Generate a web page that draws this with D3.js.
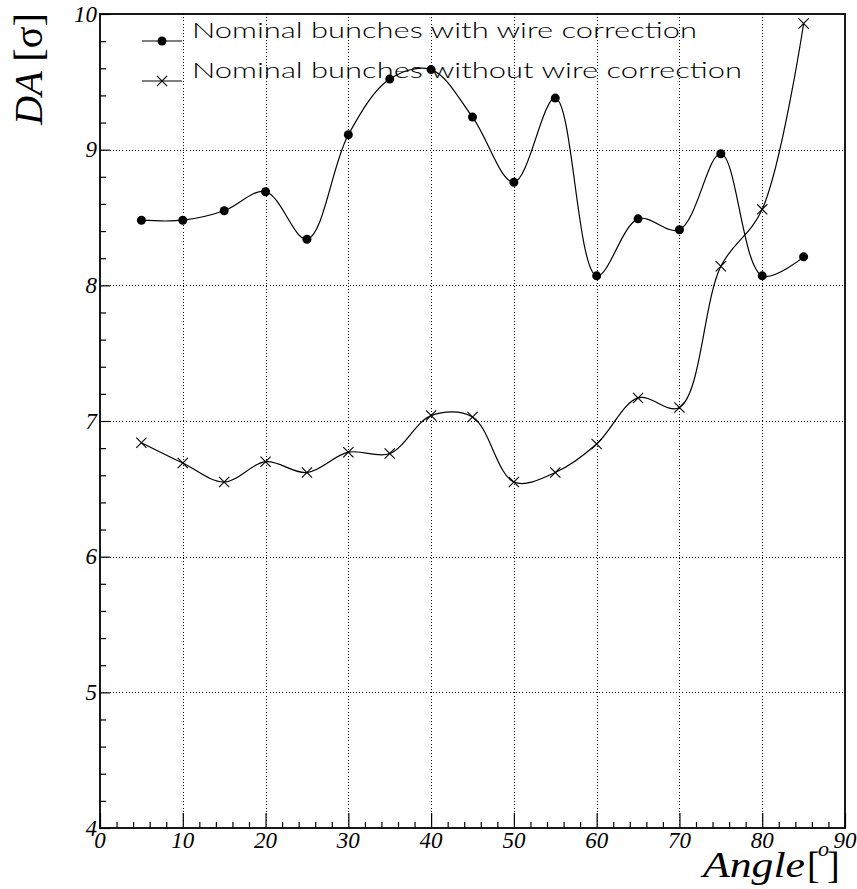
<!DOCTYPE html>
<html>
<head>
<meta charset="utf-8">
<script src="https://cdn.jsdelivr.net/npm/d3@7"></script>
<style>
  html, body { margin: 0; padding: 0; background: #fff; }
  svg { display: block; }
  .tick-label { font-family: "Liberation Serif", "DejaVu Serif", serif; font-style: italic; font-size: 23px; fill: #000; }
  .legend-text { font-family: "Lato", "Noto Sans", sans-serif; font-weight: 300; font-size: 21px; fill: #000; }
</style>
</head>
<body>
<svg id="chart" width="857" height="889"></svg>
<script>
// Scan angles (degrees)
const angles = [5, 10, 15, 20, 25, 30, 35, 40, 45, 50, 55, 60, 65, 70, 75, 80, 85];
// Dynamic aperture [sigma] with wire compensation
const daWithWire = [8.48, 8.48, 8.55, 8.69, 8.34, 9.11, 9.52, 9.59, 9.24, 8.76, 9.38, 8.07, 8.49, 8.41, 8.97, 8.07, 8.21];
// Dynamic aperture [sigma] without wire compensation
const daWithoutWire = [6.84, 6.69, 6.55, 6.70, 6.62, 6.77, 6.76, 7.04, 7.03, 6.55, 6.62, 6.83, 7.17, 7.10, 8.14, 8.56, 9.93];

const seriesNames = ["Nominal bunches with wire correction", "Nominal bunches without wire correction"];
const xTicks = [0, 10, 20, 30, 40, 50, 60, 70, 80, 90];
const yTicks = [4, 5, 6, 7, 8, 9, 10];
const xDomain = [0, 90];
const yDomain = [4, 10];

const svg = d3.select("#chart");
const frame = { left: 100, right: 845, top: 14, bottom: 828 };

const x = d3.scaleLinear().domain(xDomain).range([frame.left, frame.right]);
const y = d3.scaleLinear().domain(yDomain).range([frame.bottom, frame.top]);

// Dotted grid at the major ticks
const grid = svg.append("g").attr("stroke", "#000").attr("stroke-width", 1)
  .attr("stroke-dasharray", "1,2.2").attr("shape-rendering", "crispEdges");
grid.selectAll("line.gx").data(xTicks.slice(1, -1)).join("line")
  .attr("x1", d => Math.round(x(d)) + 0.5).attr("x2", d => Math.round(x(d)) + 0.5)
  .attr("y1", frame.top).attr("y2", frame.bottom);
grid.selectAll("line.gy").data(yTicks.slice(1, -1)).join("line")
  .attr("y1", d => Math.round(y(d)) + 0.5).attr("y2", d => Math.round(y(d)) + 0.5)
  .attr("x1", frame.left).attr("x2", frame.right);

// Frame
svg.append("rect")
  .attr("x", frame.left).attr("y", frame.top)
  .attr("width", frame.right - frame.left).attr("height", frame.bottom - frame.top)
  .attr("fill", "none").attr("stroke", "#000").attr("stroke-width", 1.8);

// Axes with inward ticks
const xAxis = d3.axisTop(x).tickValues(xTicks).tickSize(15).tickFormat("");
const xMinor = d3.axisTop(x).tickValues(d3.range(0, 90.1, 2).filter(v => v % 10 !== 0)).tickSize(6).tickFormat("");
const yAxis = d3.axisRight(y).tickValues(yTicks).tickSize(10).tickFormat("");
const yMinor = d3.axisRight(y).tickValues(d3.range(4, 10.001, 0.2).filter(v => Math.abs(v - Math.round(v)) > 1e-6)).tickSize(6).tickFormat("");

[xAxis, xMinor].forEach(ax => {
  const g = svg.append("g").attr("transform", `translate(0,${frame.bottom})`).call(ax);
  g.select(".domain").remove();
  g.selectAll("line").attr("stroke", "#000").attr("stroke-width", 1.2);
});
[yAxis, yMinor].forEach(ax => {
  const g = svg.append("g").attr("transform", `translate(${frame.left},0)`).call(ax);
  g.select(".domain").remove();
  g.selectAll("line").attr("stroke", "#000").attr("stroke-width", 1.2);
});

// Tick labels
svg.append("g").selectAll("text").data(xTicks).join("text")
  .attr("class", "tick-label")
  .attr("x", d => x(d)).attr("y", 848)
  .attr("text-anchor", "middle")
  .text(d => d);
svg.append("g").selectAll("text").data(yTicks).join("text")
  .attr("class", "tick-label")
  .attr("x", 97).attr("y", d => y(d) + 7.5)
  .attr("text-anchor", "end")
  .text(d => d);

// Axis titles
const xTitle = svg.append("g").attr("font-family", "Liberation Serif, DejaVu Serif, serif").attr("fill", "#000");
xTitle.append("text").attr("x", 703).attr("y", 877).attr("font-size", 35).attr("font-style", "italic")
  .attr("textLength", 102).attr("lengthAdjust", "spacingAndGlyphs").text("Angle");
xTitle.append("text").attr("x", 807).attr("y", 878).attr("font-size", 38).text("[");
xTitle.append("text").attr("x", 818).attr("y", 856).attr("font-size", 22).attr("font-style", "italic").text("o");
xTitle.append("text").attr("x", 827).attr("y", 878).attr("font-size", 38).text("]");

const yTitle = svg.append("text")
  .attr("transform", "translate(42,125) rotate(-90)")
  .attr("font-family", "Liberation Serif, DejaVu Serif, serif")
  .attr("font-size", 39).attr("fill", "#000")
  .attr("textLength", 112).attr("lengthAdjust", "spacingAndGlyphs");
yTitle.append("tspan").attr("font-style", "italic").text("DA ");
yTitle.append("tspan").text("[σ]");

// Series curves
const line = d3.line().x(d => x(d[0])).y(d => y(d[1])).curve(d3.curveCatmullRom.alpha(0.5));
const withPts = angles.map((a, i) => [a, daWithWire[i]]);
const withoutPts = angles.map((a, i) => [a, daWithoutWire[i]]);

svg.append("path").datum(withPts).attr("d", line)
  .attr("fill", "none").attr("stroke", "#000").attr("stroke-width", 1.2);
svg.append("path").datum(withoutPts).attr("d", line)
  .attr("fill", "none").attr("stroke", "#000").attr("stroke-width", 1.2);

svg.append("g").selectAll("circle").data(withPts).join("circle")
  .attr("cx", d => x(d[0])).attr("cy", d => y(d[1])).attr("r", 4.5).attr("fill", "#000");

const cross = d3.symbol().type(d3.symbolX).size(70);
svg.append("g").selectAll("path").data(withoutPts).join("path")
  .attr("transform", d => `translate(${x(d[0])},${y(d[1])})`)
  .attr("d", cross).attr("fill", "none").attr("stroke", "#000").attr("stroke-width", 1.1);

// Legend
const legend = svg.append("g");
const rows = [{ y: 41, tb: 38, w: 505, marker: "dot" }, { y: 81, tb: 78, w: 550, marker: "x" }];
rows.forEach((r, i) => {
  legend.append("line").attr("x1", 142).attr("x2", 182).attr("y1", r.y).attr("y2", r.y)
    .attr("stroke", "#000").attr("stroke-width", 1.2);
  if (r.marker === "dot") {
    legend.append("circle").attr("cx", 162).attr("cy", r.y).attr("r", 4.5).attr("fill", "#000");
  } else {
    legend.append("path").attr("transform", `translate(162,${r.y})`).attr("d", cross)
      .attr("fill", "none").attr("stroke", "#000").attr("stroke-width", 1.1);
  }
  legend.append("text").attr("class", "legend-text")
    .attr("x", 192).attr("y", r.tb)
    .attr("textLength", r.w).attr("lengthAdjust", "spacingAndGlyphs")
    .text(seriesNames[i]);
});
</script>
</body>
</html>
